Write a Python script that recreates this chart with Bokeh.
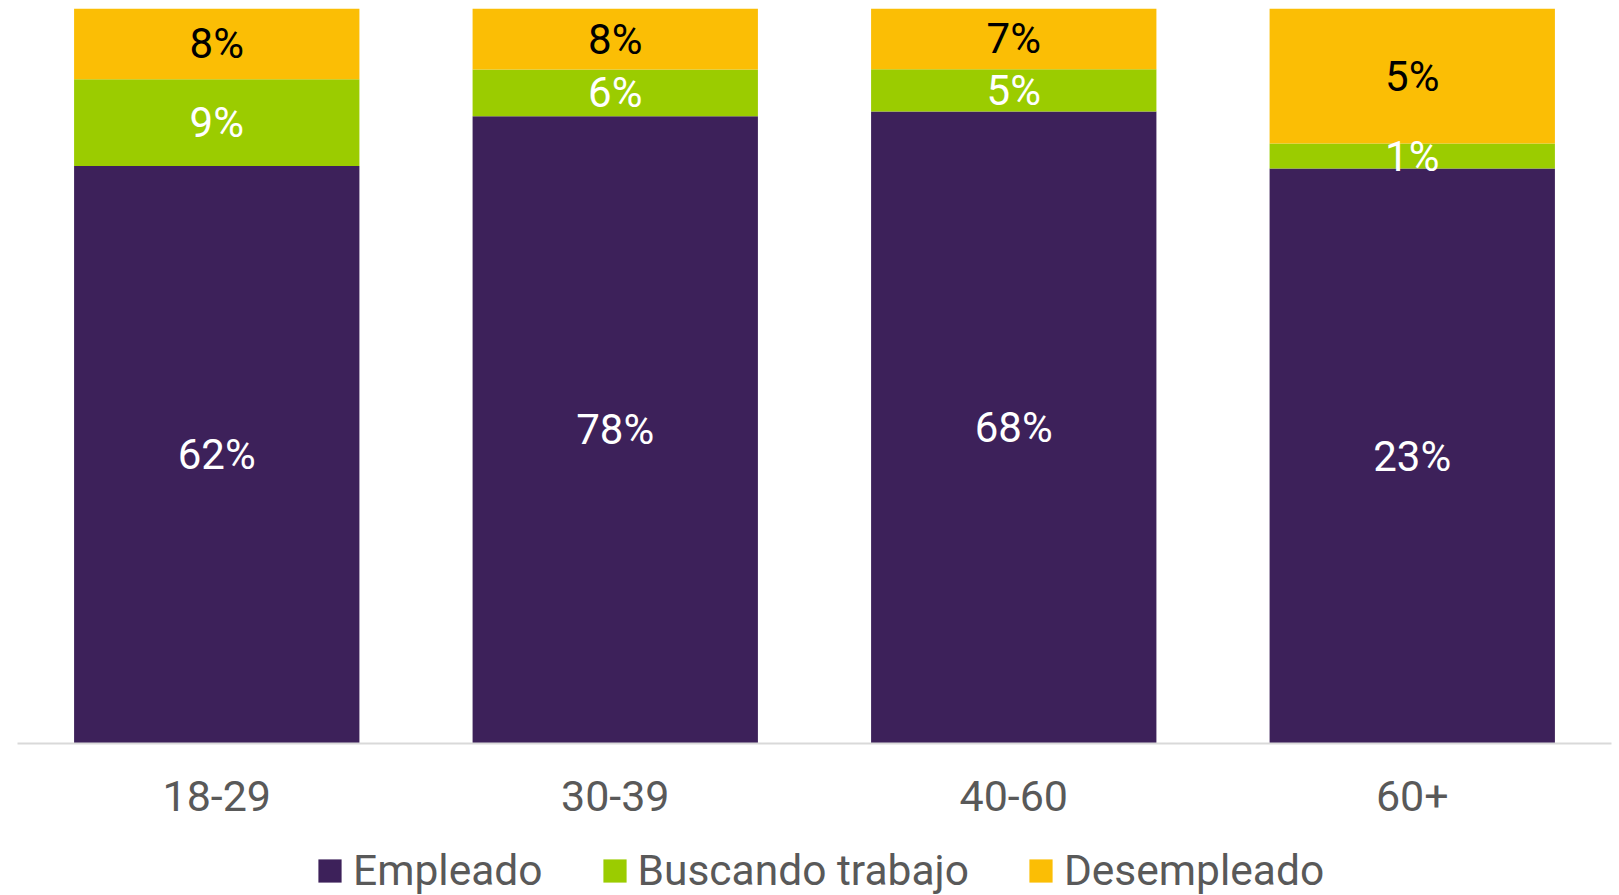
from bokeh.plotting import figure
from bokeh.models import ColumnDataSource, Range1d, Legend, LegendItem
from bokeh.layouts import column
from bokeh.core.properties import value
from bokeh.embed import file_html
from bokeh.resources import INLINE

categories = ["18-29", "30-39", "40-60", "60+"]
# values (labels show them rounded)
empleado = [62.0, 78.0, 68.2, 23.0]
buscando = [9.3, 5.8, 4.55, 1.0]
desempleado = [7.6, 7.6, 6.55, 5.4]
series_names = ["Empleado", "Buscando trabajo", "Desempleado"]
colors = ["#3D215A", "#9BCC00", "#FBBE05"]
label_colors = ["white", "white", "black"]

FONT = "Roboto"

series = [empleado, buscando, desempleado]
totals = [sum(v) for v in zip(*series)]
fracs = [[v / t for v, t in zip(s, totals)] for s in series]

data = {"cat": categories}
keys = ["emp", "bus", "des"]
for k, f in zip(keys, fracs):
    data[k] = f
source = ColumnDataSource(data)

# label positions (segment centres) built from the data
lx, ly, lt, lc = [], [], [], []
for i, c in enumerate(categories):
    base = 0.0
    for j in range(3):
        h = fracs[j][i]
        lx.append(c)
        ly.append(base + h / 2)
        lt.append(f"{series[j][i]:.0f}%")
        lc.append(label_colors[j])
        base += h
lsrc = ColumnDataSource(dict(x=lx, y=ly, t=lt, c=lc))

p = figure(x_range=categories, y_range=Range1d(0, 1), width=1619, height=835,
           output_backend="svg", toolbar_location=None,
           min_border_left=17, min_border_right=8, min_border_top=8, min_border_bottom=92)
p.x_range.range_padding = 0
p.outline_line_color = None
p.xgrid.visible = False
p.ygrid.visible = False
p.yaxis.visible = False

rs = p.vbar_stack(keys, x="cat", width=0.716, color=colors, line_color=None, source=source)

p.text(x="x", y="y", text="t", text_color="c", source=lsrc,
       text_align="center", text_baseline="middle",
       text_font=value(FONT), text_font_size="42px")

ax = p.xaxis[0]
ax.axis_line_color = "#D9D9D9"
ax.axis_line_width = 2
ax.major_tick_line_color = None
ax.minor_tick_line_color = None
ax.major_label_text_font = FONT
ax.major_label_text_font_size = "43px"
ax.major_label_text_color = "#595959"
ax.major_label_standoff = 31

# legend figure below the chart
lg = figure(width=1619, height=60, output_backend="svg", toolbar_location=None,
            x_range=Range1d(0, 1), y_range=Range1d(0, 1),
            min_border_left=0, min_border_right=0, min_border_top=0, min_border_bottom=0)
lg.outline_line_color = None
lg.xaxis.visible = False
lg.yaxis.visible = False
lg.xgrid.visible = False
lg.ygrid.visible = False
# zero-height proxy bars, only used to give the legend its swatches
lrs = []
for c in colors:
    proxy = ColumnDataSource(dict(x=[0.5], top=[0.0]))
    lrs.append(lg.vbar(x="x", top="top", width=0.1, fill_color=c, line_color=None, source=proxy))

legend = Legend(items=[LegendItem(label=n, renderers=[r]) for n, r in zip(series_names, lrs)],
                orientation="horizontal", location=(298, 0))
legend.border_line_color = None
legend.background_fill_alpha = 0
legend.label_text_font = FONT
legend.label_text_font_size = "42.5px"
legend.label_text_color = "#595959"
legend.glyph_width = 29
legend.glyph_height = 29
legend.label_standoff = 9
legend.spacing = 57
legend.padding = 0
legend.margin = 0
lg.add_layout(legend, "center")

layout = column(p, lg, spacing=0)
open("out.html", "w").write(file_html(layout, INLINE))
